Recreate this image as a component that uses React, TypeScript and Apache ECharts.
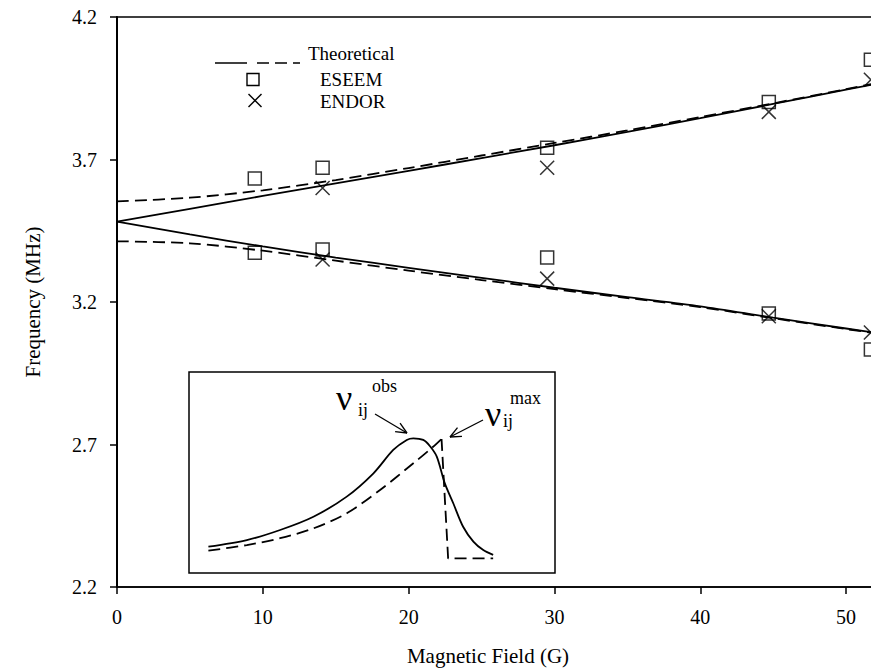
import React, { useEffect, useRef } from "react";
import * as echarts from "echarts";

// ---- Main chart data (Magnetic Field in G, Frequency in MHz) ----
const FIELD = [0, 5, 10, 15, 20, 25, 30, 35, 40, 45, 50, 55];
const THEO_UPPER_SOLID = [3.482, 3.527, 3.572, 3.616, 3.66, 3.705, 3.75, 3.797, 3.845, 3.895, 3.945, 3.995];
const THEO_UPPER_DASHED = [3.553, 3.566, 3.592, 3.628, 3.67, 3.714, 3.758, 3.802, 3.849, 3.897, 3.947, 3.997];
const THEO_LOWER_SOLID = [3.482, 3.437, 3.395, 3.356, 3.32, 3.285, 3.25, 3.217, 3.185, 3.145, 3.107, 3.07];
const THEO_LOWER_DASHED = [3.413, 3.406, 3.38, 3.345, 3.31, 3.277, 3.245, 3.214, 3.182, 3.143, 3.105, 3.07];

const ESEEM_FIELD = [9.45, 14.1, 29.5, 44.7, 51.7];
const ESEEM_UPPER = [3.633, 3.671, 3.741, 3.902, 4.05];
const ESEEM_LOWER = [3.373, 3.384, 3.356, 3.16, 3.033];

const ENDOR_FIELD = [14.1, 29.5, 44.7, 51.7];
const ENDOR_UPPER = [3.6, 3.671, 3.867, 3.98];
const ENDOR_LOWER = [3.349, 3.282, 3.15, 3.093];

const X_TICKS = [0, 10, 20, 30, 40, 50];
const Y_TICK_LABELS = ["2.2", "2.7", "3.2", "3.7", "4.2"];
const Y_MIN = 2.2;
const Y_MAX = 4.2;

// ---- Inset (schematic line shapes, arbitrary units 0..100) ----
const INSET_OBS_X = [5.3, 15.8, 24.9, 34.0, 43.1, 50.4, 55.8, 59.5, 61.3, 64.0, 65.8, 67.7, 69.9, 72.2, 74.9, 77.7, 80.4, 83.1];
const INSET_OBS_Y = [13.1, 16.4, 21.4, 28.0, 38.0, 49.6, 61.2, 66.2, 67.0, 66.2, 63.2, 57.9, 44.6, 34.7, 23.0, 15.6, 11.4, 9.0];
const INSET_MAX_RISE_X = [5.3, 15.8, 24.9, 34.0, 43.1, 52.2, 61.3, 66.7, 69.0];
const INSET_MAX_RISE_Y = [11.1, 13.9, 17.3, 22.2, 29.7, 41.3, 54.6, 62.8, 66.7];
const INSET_MAX_DROP_X = [69.0, 70.8, 83.1];
const INSET_MAX_DROP_Y = [66.7, 7.3, 7.3];

const zip = (xs: number[], ys: number[], off = 0) => xs.map((x, i) => [x, ys[i] - off]);

const SERIF = "Liberation Serif, Times New Roman, serif";
const X_PATH = "path://M0,0L20,20M20,0L0,20";

function arrow(x1: number, y1: number, x2: number, y2: number) {
  const dx = x2 - x1;
  const dy = y2 - y1;
  const len = Math.hypot(dx, dy);
  const ux = dx / len;
  const uy = dy / len;
  const h = 12;
  const a = (24 * Math.PI) / 180;
  const rot = (ang: number) => [ux * Math.cos(ang) - uy * Math.sin(ang), ux * Math.sin(ang) + uy * Math.cos(ang)];
  const [ax, ay] = rot(a);
  const [bx, by] = rot(-a);
  const st = { stroke: "#000", lineWidth: 1.3 };
  return [
    { type: "line", shape: { x1, y1, x2, y2 }, style: st },
    { type: "line", shape: { x1: x2, y1: y2, x2: x2 - ax * h, y2: y2 - ay * h }, style: st },
    { type: "line", shape: { x1: x2, y1: y2, x2: x2 - bx * h, y2: y2 - by * h }, style: st },
  ];
}

export default function App() {
  const ref = useRef<HTMLDivElement>(null);

  useEffect(() => {
    document.body.style.margin = "0";
    document.body.style.overflow = "hidden";
    if (!ref.current) return;
    const chart = echarts.init(ref.current, undefined, { renderer: "svg" });

    const lineStyleSolid = { color: "#000", width: 1.8, type: "solid" as const };
    const lineStyleDashed = { color: "#000", width: 1.8, type: [12, 6] as any };

    const txt = (text: string, x: number, y: number, size: number, align = "left") => ({
      type: "text",
      x,
      y,
      style: { text, fill: "#000", fontFamily: SERIF, fontSize: size, align, verticalAlign: "middle" },
    });

    const richLabel = { t: { fontFamily: SERIF, fontSize: 20, color: "#000" } };
    const richName = { t: { fontFamily: SERIF, fontSize: 21, color: "#000" } };

    const option: any = {
      animation: false,
      backgroundColor: "#fff",
      textStyle: { fontFamily: SERIF },
      grid: [
        { left: 117, top: 17, width: 802, height: 570, show: true, borderColor: "#000", borderWidth: 1.5, outerBoundsMode: "none", containLabel: false },
        { left: 189, top: 372, width: 366, height: 201, show: true, borderColor: "#000", borderWidth: 1.5, outerBoundsMode: "none", containLabel: false },
      ],
      xAxis: [
        {
          gridIndex: 0,
          type: "value",
          min: 0,
          max: 55,
          interval: 10,
          name: "{t|Magnetic Field (G)}",
          nameLocation: "middle",
          nameGap: 58,
          nameTextStyle: { fontFamily: SERIF, fontSize: 21, color: "#000", padding: [0, 60, 0, 0], rich: richName },
          axisLine: { lineStyle: { color: "#000", width: 1.5 } },
          axisTick: { length: 7, lineStyle: { color: "#000", width: 1.5 } },
          axisLabel: {
            fontFamily: SERIF,
            fontSize: 20,
            color: "#000",
            margin: 20,
            rich: richLabel,
            formatter: (v: number) => (X_TICKS.includes(v) ? `{t|${v}}` : ""),
          },
          splitLine: { show: false },
        },
        { gridIndex: 1, type: "value", min: 0, max: 100, show: false },
      ],
      yAxis: [
        {
          gridIndex: 0,
          type: "value",
          min: 0,
          max: Y_MAX - Y_MIN,
          interval: 0.5,
          name: "{t|Frequency (MHz)}",
          nameLocation: "middle",
          nameGap: 74,
          nameTextStyle: { fontFamily: SERIF, fontSize: 21, color: "#000", rich: richName },
          axisLine: { show: true, lineStyle: { color: "#000", width: 2 } },
          axisTick: { show: true, length: 7, lineStyle: { color: "#000", width: 1.5 } },
          axisLabel: {
            fontFamily: SERIF,
            fontSize: 20,
            color: "#000",
            margin: 20,
            rich: richLabel,
            formatter: (v: number) => {
              const s = Y_TICK_LABELS[Math.round(v / 0.5)];
              return s ? `{t|${s}}` : "";
            },
          },
          splitLine: { show: false },
        },
        { gridIndex: 1, type: "value", min: 0, max: 100, show: false },
      ],
      series: [
        { type: "line", name: "Theoretical", data: zip(FIELD, THEO_UPPER_SOLID, Y_MIN), smooth: 0.3, symbol: "none", lineStyle: lineStyleSolid },
        { type: "line", name: "Theoretical", data: zip(FIELD, THEO_LOWER_SOLID, Y_MIN), smooth: 0.3, symbol: "none", lineStyle: lineStyleSolid },
        { type: "line", name: "Theoretical (dashed)", data: zip(FIELD, THEO_UPPER_DASHED, Y_MIN), smooth: 0.3, symbol: "none", lineStyle: lineStyleDashed },
        { type: "line", name: "Theoretical (dashed)", data: zip(FIELD, THEO_LOWER_DASHED, Y_MIN), smooth: 0.3, symbol: "none", lineStyle: lineStyleDashed },
        {
          type: "scatter",
          name: "ESEEM",
          data: [...zip(ESEEM_FIELD, ESEEM_UPPER, Y_MIN), ...zip(ESEEM_FIELD, ESEEM_LOWER, Y_MIN)],
          symbol: "rect",
          symbolSize: 13,
          clip: false,
          itemStyle: { color: "rgba(0,0,0,0)", borderColor: "#000", borderWidth: 1.5 },
        },
        {
          type: "scatter",
          name: "ENDOR",
          data: [...zip(ENDOR_FIELD, ENDOR_UPPER, Y_MIN), ...zip(ENDOR_FIELD, ENDOR_LOWER, Y_MIN)],
          symbol: X_PATH,
          symbolSize: 14,
          clip: false,
          itemStyle: { color: "rgba(0,0,0,0)", borderColor: "#000", borderWidth: 1.5 },
        },
        {
          type: "line",
          xAxisIndex: 1,
          yAxisIndex: 1,
          data: zip(INSET_OBS_X, INSET_OBS_Y),
          smooth: 0.3,
          symbol: "none",
          lineStyle: lineStyleSolid,
        },
        {
          type: "line",
          xAxisIndex: 1,
          yAxisIndex: 1,
          data: zip(INSET_MAX_RISE_X, INSET_MAX_RISE_Y),
          smooth: 0.3,
          symbol: "none",
          lineStyle: lineStyleDashed,
        },
        {
          type: "line",
          xAxisIndex: 1,
          yAxisIndex: 1,
          data: zip(INSET_MAX_DROP_X, INSET_MAX_DROP_Y),
          smooth: false,
          symbol: "none",
          lineStyle: lineStyleDashed,
        },
      ],
      graphic: [
        // legend
        { type: "line", shape: { x1: 215, y1: 63, x2: 247, y2: 63 }, style: { stroke: "#000", lineWidth: 1.5 } },
        { type: "line", shape: { x1: 257, y1: 63, x2: 300, y2: 63 }, style: { stroke: "#000", lineWidth: 1.5, lineDash: [12, 6] } },
        txt("Theoretical", 308, 53, 19),
        { type: "rect", shape: { x: 247, y: 73.5, width: 12, height: 12 }, style: { fill: "none", stroke: "#000", lineWidth: 1.4 } },
        txt("ESEEM", 320, 79, 19),
        { type: "line", shape: { x1: 248.5, y1: 94, x2: 261.5, y2: 107 }, style: { stroke: "#000", lineWidth: 1.4 } },
        { type: "line", shape: { x1: 261.5, y1: 94, x2: 248.5, y2: 107 }, style: { stroke: "#000", lineWidth: 1.4 } },
        txt("ENDOR", 320, 101, 19),
        // inset annotations
        txt("ν", 336, 398, 36),
        txt("ij", 358, 410, 18),
        txt("obs", 372, 386, 18),
        ...arrow(375, 414, 407, 433),
        txt("ν", 485, 414, 36),
        txt("ij", 503, 421, 18),
        txt("max", 510, 398, 18),
        ...arrow(483, 420, 450, 437),
      ],
    };

    chart.setOption(option);
    return () => chart.dispose();
  }, []);

  return <div ref={ref} style={{ width: 871, height: 672 }} />;
}
